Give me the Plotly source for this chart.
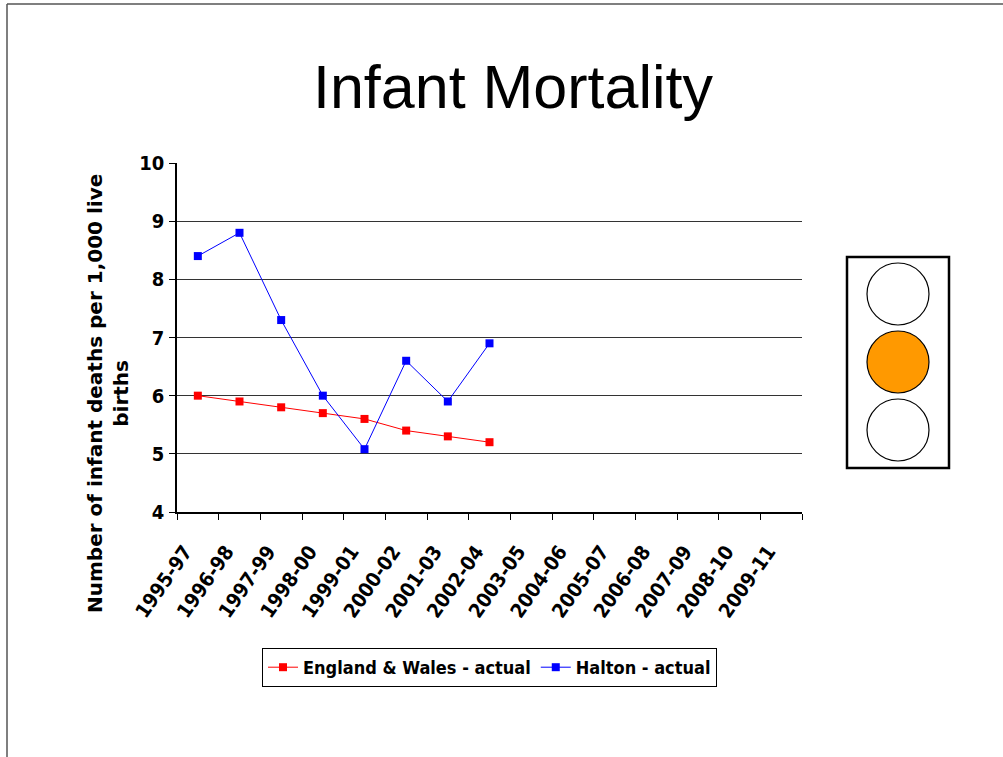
import plotly.graph_objects as go

periods = ["1995-97", "1996-98", "1997-99", "1998-00", "1999-01", "2000-02", "2001-03",
           "2002-04", "2003-05", "2004-06", "2005-07", "2006-08", "2007-09", "2008-10", "2009-11"]
england_wales = [6.0, 5.9, 5.8, 5.7, 5.6, 5.4, 5.3, 5.2]
halton = [8.4, 8.8, 7.3, 6.0, 5.08, 6.6, 5.9, 6.9]
y_ticks = [4, 5, 6, 7, 8, 9, 10]

NARROW = "DejaVu Sans Condensed, Liberation Sans Narrow, Arial Narrow, Liberation Sans, Arial, sans-serif"
SANS = "Liberation Sans, Arial, sans-serif"

fig = go.Figure()
fig.add_trace(go.Scatter(
    x=periods[:len(england_wales)], y=england_wales, name="England & Wales - actual",
    mode="lines+markers", line=dict(color="#FF0000", width=1),
    marker=dict(symbol="square", size=8, color="#FF0000")))
fig.add_trace(go.Scatter(
    x=periods[:len(halton)], y=halton, name="Halton - actual",
    mode="lines+markers", line=dict(color="#0000FF", width=1),
    marker=dict(symbol="square", size=8, color="#0000FF")))

W, H = 1003, 757
L, R, T, B = 177, 802, 163, 512


def px(xp):
    return (xp - L) / (R - L)


def py(yp):
    return (B - yp) / (B - T)


shapes = [
    # page frame lines
    dict(type="line", xref="paper", yref="paper", x0=px(7), x1=px(1003), y0=py(4), y1=py(4),
         line=dict(color="#555555", width=1.5)),
    dict(type="line", xref="paper", yref="paper", x0=px(7), x1=px(7), y0=py(4), y1=py(757),
         line=dict(color="#555555", width=1.5)),
    # traffic light box
    dict(type="rect", xref="paper", yref="paper", x0=px(847), x1=px(949), y0=py(468), y1=py(257),
         line=dict(color="black", width=2.5), fillcolor="white"),
]
light_centers = [294, 362, 430]
light_fill = ["white", "#FF9900", "white"]
for cy, fc in zip(light_centers, light_fill):
    shapes.append(dict(type="circle", xref="paper", yref="paper",
                       x0=px(898 - 31), x1=px(898 + 31), y0=py(cy + 31), y1=py(cy - 31),
                       line=dict(color="black", width=1.2), fillcolor=fc))

fig.update_layout(
    width=W, height=H,
    margin=dict(l=L, r=W - R, t=T, b=H - B),
    paper_bgcolor="white", plot_bgcolor="white",
    showlegend=True,
    title=dict(text="Infant Mortality", x=513 / W, y=1 - 87 / H, xanchor="center", yanchor="middle",
               font=dict(family=SANS, size=61, color="black")),
    legend=dict(orientation="h", x=0.5, xanchor="center", y=py(648), yanchor="top",
                bordercolor="black", borderwidth=1, bgcolor="white",
                font=dict(family=NARROW, size=18, color="black", weight="bold"),
                itemsizing="trace", tracegroupgap=0, itemwidth=30),
    xaxis=dict(type="category", categoryorder="array", categoryarray=periods,
               range=[-0.5, len(periods) - 0.5], tickson="boundaries",
               ticks="outside", ticklen=6, tickcolor="black", tickwidth=1,
               showline=True, linecolor="black", linewidth=2, showgrid=False,
               tickangle=-55, ticklabelstandoff=18, ticklabelshift=-13,
               tickfont=dict(family=NARROW, size=20, color="black", weight="bold")),
    yaxis=dict(range=[4, 10], tickvals=y_ticks, ticks="outside", ticklen=6, tickcolor="black",
               showline=True, linecolor="black", linewidth=1.5,
               showgrid=True, gridcolor="#333333", gridwidth=1.2, zeroline=False,
               ticklabelstandoff=1,
               tickfont=dict(family=NARROW, size=20, color="black", weight="bold")),
    shapes=shapes,
    annotations=[dict(text="Number of infant deaths per 1,000 live<br>births", xref="paper", yref="paper",
                      x=px(108), y=py(394), xanchor="center", yanchor="middle", textangle=-90,
                      showarrow=False, font=dict(family="DejaVu Sans, Arial", size=20, color="black",
                                                 weight="bold"))],
)

fig.write_html("out.html", config={"displayModeBar": False},
               post_script="document.body.style.margin='0';document.body.style.overflow='hidden';")
